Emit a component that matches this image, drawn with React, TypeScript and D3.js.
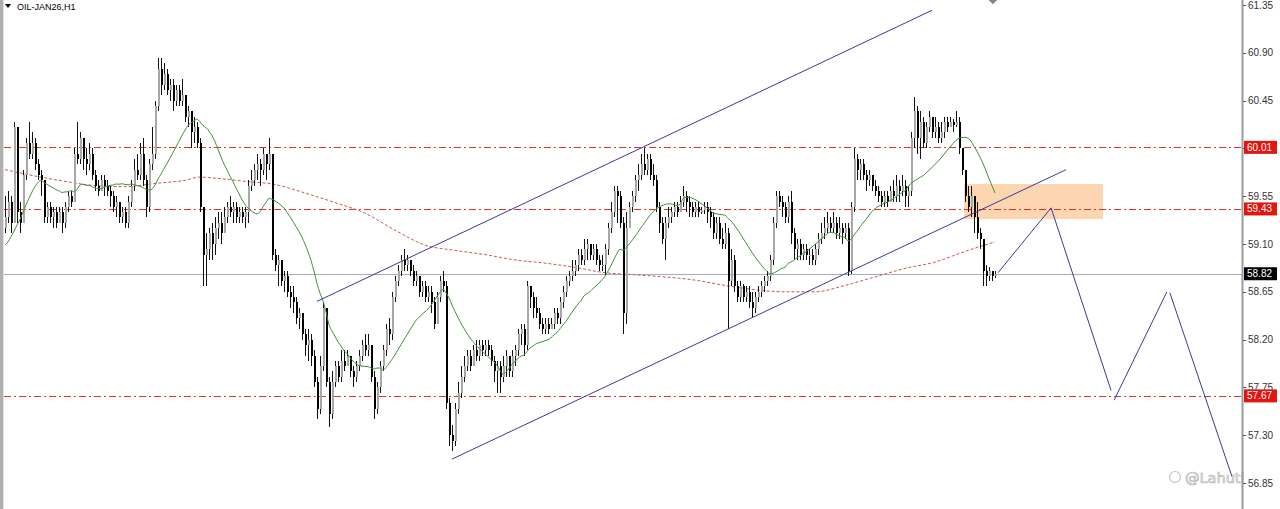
import * as d3 from "d3"

const W = 1280
const H = 509

const symbolTitle = "OIL-JAN26,H1"
const watermark = "@Lahuti"
const firstOpen = 59.25

const closes = [
    59.35, 59.5, 59.3, 60.2, 59.4, 59.3, 59.75, 60.05, 59.95, 60.05,
    59.85, 59.75, 59.7, 59.35, 59.45, 59.35, 59.4, 59.3, 59.4, 59.3,
    59.45, 59.55, 59.5, 59.95, 59.9, 60.1, 59.9, 59.85, 59.95, 59.75,
    59.65, 59.6, 59.7, 59.65, 59.6, 59.55, 59.45, 59.5, 59.35, 59.4,
    59.3, 59.5, 59.65, 59.8, 59.75, 59.95, 59.7, 59.45, 59.85, 59.95,
    60.4, 60.75, 60.6, 60.7, 60.55, 60.6, 60.45, 60.55, 60.45, 60.5,
    60.3, 60.35, 60.15, 60.2, 60.05, 59.45, 59.0, 59.05, 59.2, 59.1,
    59.25, 59.3, 59.2, 59.35, 59.45, 59.4, 59.45, 59.35, 59.4, 59.35,
    59.4, 59.65, 59.7, 59.8, 59.85, 59.8, 59.95, 59.85, 59.95, 59.0,
    58.9, 58.95, 58.75, 58.8, 58.65, 58.6, 58.55, 58.4, 58.45, 58.25,
    58.15, 58.2, 58.05, 57.8, 57.55, 57.95, 58.5, 57.8, 57.5, 57.8,
    57.95, 57.85, 58.0, 57.95, 58.05, 57.9, 57.85, 57.95, 58.05, 58.15,
    58.1, 58.15, 57.85, 57.55, 57.75, 57.95, 58.1, 58.3, 58.25, 58.6,
    58.75, 58.85, 58.95, 58.9, 58.95, 58.85, 58.75, 58.8, 58.65, 58.7,
    58.6, 58.65, 58.55, 58.35, 58.6, 58.75, 58.7, 57.6, 57.3, 57.25,
    57.55, 57.7, 57.85, 57.95, 58.05, 57.95, 58.1, 58.05, 58.15, 58.1,
    58.15, 58.1, 58.0, 57.9, 57.95, 57.85, 57.95, 58.05, 57.9, 58.05,
    58.1, 58.25, 58.3, 58.15, 58.7, 58.6, 58.5, 58.45, 58.35, 58.3,
    58.35, 58.3, 58.35, 58.45, 58.4, 58.55, 58.65, 58.75, 58.8, 58.85,
    58.9, 59.0, 58.95, 59.05, 59.1, 59.0, 59.05, 58.95, 58.9, 58.9,
    59.05, 59.25, 59.4, 59.6, 59.55, 59.3, 58.45, 59.25, 59.45, 59.55,
    59.7, 59.75, 59.85, 59.8, 59.9, 59.75, 59.7, 59.45, 59.3, 59.15,
    59.3, 59.35, 59.4, 59.45, 59.4, 59.5, 59.55, 59.5, 59.45, 59.4,
    59.45, 59.4, 59.42, 59.45, 59.4, 59.35, 59.2, 59.3, 59.15, 59.1,
    59.2, 58.75, 58.95, 58.7, 58.6, 58.7, 58.6, 58.65, 58.55, 58.5,
    58.6, 58.65, 58.7, 58.75, 58.8, 58.95, 59.3, 59.55, 59.5, 59.45,
    59.35, 59.5, 59.2, 59.05, 59.1, 59.0, 59.05, 59.0, 59.0, 58.95,
    59.05, 59.15, 59.2, 59.25, 59.3, 59.25, 59.3, 59.2, 59.25, 59.2,
    59.25, 58.85, 59.45, 59.9, 59.8, 59.85, 59.75, 59.7, 59.75, 59.65,
    59.6, 59.55, 59.5, 59.55, 59.5, 59.6, 59.55, 59.65, 59.6, 59.65,
    59.55, 59.6, 60.1, 60.35, 60.1, 60.25, 60.05, 60.2, 60.3, 60.15,
    60.2, 60.1, 60.15, 60.25, 60.2, 60.25, 60.22, 60.25, 60.0, 59.8,
    59.55, 59.45, 59.55, 59.35, 59.2, 59.15, 58.85, 58.8, 58.85, 58.8, 58.82,
]

const highs = [
    59.55, 59.6, 59.55, 60.25, 60.2, 59.5, 59.8, 60.1, 60.25, 60.15,
    60.1, 59.9, 59.8, 59.7, 59.5, 59.5, 59.45, 59.45, 59.45, 59.45,
    59.5, 59.6, 59.6, 60.0, 60.25, 60.15, 60.1, 60.0, 60.05, 60.0,
    59.8, 59.7, 59.75, 59.75, 59.7, 59.65, 59.6, 59.55, 59.5, 59.45,
    59.45, 59.55, 59.7, 59.9, 59.95, 60.05, 60.1, 59.75, 59.9, 60.2,
    60.45, 60.85, 60.85, 60.8, 60.75, 60.65, 60.65, 60.6, 60.6, 60.65,
    60.5, 60.4, 60.35, 60.3, 60.25, 60.1, 59.45, 59.2, 59.25, 59.3,
    59.35, 59.4, 59.4, 59.45, 59.5, 59.55, 59.5, 59.5, 59.45, 59.45,
    59.45, 59.7, 59.8, 59.85, 59.95, 59.9, 60.0, 59.95, 60.1, 59.95,
    59.05, 59.0, 58.95, 58.85, 58.85, 58.7, 58.7, 58.6, 58.5, 58.45,
    58.3, 58.3, 58.25, 58.1, 57.85, 58.05, 58.55, 58.45, 57.85, 57.9,
    58.0, 58.0, 58.1, 58.1, 58.1, 58.05, 57.95, 58.0, 58.1, 58.2,
    58.25, 58.25, 58.15, 57.9, 57.8, 58.0, 58.15, 58.35, 58.4, 58.65,
    58.8, 58.9, 59.0, 59.05, 59.0, 58.95, 58.9, 58.85, 58.8, 58.75,
    58.75, 58.7, 58.7, 58.6, 58.65, 58.8, 58.85, 58.75, 57.65, 57.4,
    57.6, 57.8, 57.95, 58.05, 58.1, 58.1, 58.15, 58.2, 58.2, 58.2,
    58.2, 58.2, 58.15, 58.05, 58.0, 58.0, 58.05, 58.1, 58.05, 58.1,
    58.15, 58.3, 58.35, 58.35, 58.75, 58.7, 58.65, 58.6, 58.5, 58.4,
    58.4, 58.4, 58.4, 58.5, 58.5, 58.6, 58.7, 58.8, 58.85, 58.95,
    58.95, 59.05, 59.05, 59.15, 59.15, 59.1, 59.1, 59.1, 59.0, 59.0,
    59.1, 59.3, 59.5, 59.65, 59.65, 59.6, 59.35, 59.4, 59.5, 59.6,
    59.75, 59.85, 59.95, 60.0, 59.95, 59.95, 59.85, 59.75, 59.5, 59.35,
    59.35, 59.45, 59.45, 59.5, 59.5, 59.55, 59.65, 59.6, 59.55, 59.5,
    59.5, 59.5, 59.45, 59.5, 59.5, 59.45, 59.4, 59.35, 59.35, 59.25,
    59.3, 59.25, 59.05, 59.0, 58.75, 58.75, 58.72, 58.7, 58.7, 58.65,
    58.65, 58.7, 58.75, 58.8, 58.85, 59.0, 59.35, 59.6, 59.6, 59.55,
    59.5, 59.55, 59.6, 59.25, 59.15, 59.15, 59.1, 59.1, 59.05, 59.05,
    59.1, 59.2, 59.3, 59.35, 59.4, 59.35, 59.4, 59.35, 59.35, 59.3,
    59.3, 59.3, 59.5, 60.0, 59.95, 59.9, 59.9, 59.8, 59.8, 59.75,
    59.7, 59.65, 59.6, 59.6, 59.6, 59.65, 59.7, 59.75, 59.7, 59.75,
    59.7, 59.65, 60.15, 60.48, 60.4, 60.35, 60.3, 60.25, 60.35, 60.3,
    60.3, 60.25, 60.25, 60.3, 60.3, 60.3, 60.28, 60.35, 60.3, 60.0,
    59.8, 59.65, 59.65, 59.55, 59.5, 59.25, 59.1, 58.9, 58.88, 58.85, 58.85,
]

const lows = [
    59.2, 59.3, 59.2, 59.3, 59.3, 59.2, 59.3, 59.7, 59.9, 59.9,
    59.8, 59.7, 59.55, 59.3, 59.3, 59.3, 59.25, 59.25, 59.3, 59.2,
    59.25, 59.4, 59.45, 59.5, 59.85, 59.85, 59.8, 59.75, 59.8, 59.7,
    59.6, 59.55, 59.6, 59.55, 59.55, 59.45, 59.4, 59.35, 59.3, 59.3,
    59.25, 59.25, 59.45, 59.6, 59.7, 59.7, 59.65, 59.35, 59.4, 59.8,
    59.9, 60.35, 60.5, 60.55, 60.5, 60.45, 60.35, 60.4, 60.4, 60.4,
    60.25, 60.2, 60.0, 60.05, 60.0, 59.4, 58.7, 58.7, 58.95, 58.95,
    59.0, 59.15, 59.1, 59.2, 59.3, 59.35, 59.3, 59.3, 59.3, 59.3,
    59.25, 59.3, 59.6, 59.65, 59.7, 59.65, 59.75, 59.7, 59.8, 58.95,
    58.85, 58.7, 58.7, 58.65, 58.6, 58.5, 58.45, 58.35, 58.3, 58.2,
    58.05, 58.0, 57.95, 57.75, 57.45, 57.5, 57.9, 57.75, 57.38, 57.45,
    57.75, 57.8, 57.8, 57.9, 57.95, 57.85, 57.75, 57.8, 57.9, 58.0,
    58.05, 58.05, 57.8, 57.45, 57.5, 57.7, 57.9, 58.05, 58.15, 58.2,
    58.55, 58.7, 58.8, 58.85, 58.85, 58.8, 58.7, 58.7, 58.6, 58.6,
    58.55, 58.55, 58.45, 58.3, 58.35, 58.55, 58.65, 57.55, 57.2, 57.15,
    57.2, 57.5, 57.65, 57.8, 57.9, 57.9, 57.95, 58.0, 58.0, 58.05,
    58.05, 58.05, 57.95, 57.8, 57.7, 57.7, 57.8, 57.85, 57.85, 57.85,
    57.95, 58.05, 58.15, 58.05, 58.1, 58.5, 58.4, 58.4, 58.3, 58.25,
    58.25, 58.25, 58.3, 58.3, 58.35, 58.35, 58.5, 58.6, 58.7, 58.75,
    58.8, 58.85, 58.9, 58.9, 58.95, 58.95, 58.95, 58.9, 58.85, 58.85,
    58.8, 59.0, 59.2, 59.35, 59.3, 59.25, 58.25, 58.35, 59.25, 59.4,
    59.5, 59.6, 59.7, 59.75, 59.75, 59.7, 59.65, 59.4, 59.2, 59.1,
    58.95, 59.25, 59.3, 59.35, 59.35, 59.4, 59.45, 59.4, 59.35, 59.35,
    59.35, 59.35, 59.38, 59.38, 59.3, 59.25, 59.15, 59.15, 59.1, 59.05,
    59.05, 58.3, 58.7, 58.65, 58.55, 58.55, 58.55, 58.55, 58.5, 58.4,
    58.45, 58.55, 58.6, 58.65, 58.7, 58.75, 58.9, 59.25, 59.45, 59.35,
    59.3, 59.3, 59.1, 58.95, 58.95, 58.95, 58.95, 58.95, 58.9, 58.9,
    58.9, 59.0, 59.1, 59.15, 59.2, 59.2, 59.2, 59.15, 59.15, 59.1,
    59.15, 58.8, 58.82, 59.4, 59.7, 59.7, 59.7, 59.6, 59.65, 59.6,
    59.55, 59.5, 59.45, 59.45, 59.45, 59.5, 59.5, 59.5, 59.5, 59.55,
    59.45, 59.45, 59.55, 60.0, 59.95, 59.9, 60.0, 60.0, 60.15, 60.1,
    60.1, 60.05, 60.05, 60.1, 60.15, 60.2, 60.15, 60.2, 59.95, 59.75,
    59.5, 59.4, 59.35, 59.2, 59.15, 59.05, 58.7, 58.7, 58.75, 58.75, 58.78,
]

// fast MA for the first bars (history before the window)
const fastMaLead = [59.09, 59.12, 59.17, 59.22, 59.28, 59.33, 59.4, 59.47, 59.53, 59.59, 59.64, 59.68, 59.7]
const fastMaPeriod = 20

// slow MA (red dotted)
const slowMaBars = [0, 10, 20, 30, 40, 50, 60, 65, 70, 80, 90, 100, 110, 120, 130, 140, 150, 160, 170, 180, 190, 200, 210, 220, 230, 240, 250, 260, 270, 280, 290, 300, 310, 320, 330]
const slowMaValues = [59.8, 59.74, 59.69, 59.65, 59.64, 59.67, 59.7, 59.73, 59.72, 59.69, 59.66, 59.58, 59.49, 59.39, 59.23, 59.09, 59.04, 59.0, 58.95, 58.92, 58.88, 58.83, 58.81, 58.79, 58.76, 58.71, 58.67, 58.65, 58.65, 58.71, 58.79, 58.87, 58.93, 59.03, 59.12]

const priceTicks = [61.35, 60.9, 60.45, 60.0, 59.55, 59.1, 58.65, 58.2, 57.75, 57.3, 56.85]
const levelPrices = [60.01, 59.43, 57.67]
const bidPrice = 58.82

// drawn objects, as [bar index, price]
const upperChannel = [[104, 58.56], [309, 61.3]]
const lowerChannel = [[149, 57.075], [353.7, 59.8]]
const projection = [
    [[331, 58.83], [348.7, 59.44], [368.7, 57.72]],
    [[369.7, 57.63], [387.3, 58.65]],
    [[388.3, 58.64], [409, 56.91]],
]
const zoneBars = [319.7, 366]
const zonePrices = [59.335, 59.664]
const markerPoint = [329.3, 61.41]

export default function App() {
    const x = d3.scaleLinear().domain([0, closes.length - 1]).range([5, 995])
    const y = d3.scaleLinear().domain([56.85, 61.35]).range([483, 5])
    const axisX = 1242

    const candles = closes.map((c, i) => {
        const o = i === 0 ? firstOpen : closes[i - 1]
        const h = Math.max(highs[i], o, c)
        const l = Math.min(lows[i], o, c)
        return { i, o, c, h, l }
    })

    const fastMa = closes.map((c, i) =>
        i < fastMaLead.length ? fastMaLead[i] : d3.mean(closes.slice(Math.max(0, i - fastMaPeriod + 1), i + 1)) as number
    )

    const fastLine = d3.line<number>().x((d, i) => x(i)).y(d => y(d)).curve(d3.curveMonotoneX)
    const slowLine = d3.line<number>().x((d, i) => x(slowMaBars[i])).y(d => y(d)).curve(d3.curveMonotoneX)
    const segLine = d3.line<number[]>().x(d => x(d[0])).y(d => y(d[1]))

    const red = "#d8362c"
    const blue = "#3a3a9a"
    const snap = (v: number) => Math.round(v) + 0.5

    return (
        <div style={{ position: "fixed", left: 0, top: 0 }}>
            <svg width={W} height={H} style={{ display: "block", background: "#fff" }}
                fontFamily="'Liberation Sans', Arial, sans-serif">
                {/* left frame */}
                <rect x={0} y={0} width={3} height={H} fill="#b0b0b0" />
                <line x1={3.5} y1={0} x2={3.5} y2={H} stroke="#e0e0e0" />

                {/* supply zone */}
                <rect x={x(zoneBars[0])} y={y(zonePrices[1])}
                    width={x(zoneBars[1]) - x(zoneBars[0])} height={y(zonePrices[0]) - y(zonePrices[1])}
                    fill="#fcd6b0" />

                {/* level lines */}
                {levelPrices.map(p => (
                    <line key={p} x1={4} x2={axisX} y1={snap(y(p))} y2={snap(y(p))}
                        stroke={red} strokeDasharray="7,3,2,3" strokeWidth={1} />
                ))}
                <line x1={4} x2={axisX} y1={snap(y(bidPrice))} y2={snap(y(bidPrice))}
                    stroke="#a8adbd" strokeWidth={1} />

                {/* slow MA */}
                <path d={slowLine(slowMaValues) ?? ""} fill="none" stroke="#d0574f" strokeWidth={1} strokeDasharray="3,2" />

                {/* candles */}
                <g shapeRendering="crispEdges">
                    {candles.map(d => {
                        const cx = Math.round(x(d.i))
                        const up = d.c >= d.o
                        const top = Math.round(y(Math.max(d.o, d.c)))
                        const bot = Math.round(y(Math.min(d.o, d.c)))
                        return (
                            <g key={d.i}>
                                <rect x={cx} y={y(d.h)} width={1} height={y(d.l) - y(d.h)} fill="#111" />
                                <rect x={cx - 0.5} y={top} width={2} height={Math.max(1, bot - top)}
                                    fill={up ? "#a8a8a8" : "#000"} />
                            </g>
                        )
                    })}
                </g>

                {/* fast MA */}
                <path d={fastLine(fastMa) ?? ""} fill="none" stroke="#3f8f3a" strokeWidth={1} />

                {/* channel and projection */}
                <path d={segLine(upperChannel) ?? ""} stroke={blue} strokeWidth={1} fill="none" />
                <path d={segLine(lowerChannel) ?? ""} stroke={blue} strokeWidth={1} fill="none" />
                {projection.map((leg, k) => (
                    <path key={k} d={segLine(leg) ?? ""} stroke={blue} strokeWidth={1} fill="none" />
                ))}

                {/* marker at the top */}
                <rect x={x(markerPoint[0]) - 4} y={y(markerPoint[1]) - 4} width={8} height={8}
                    transform={`rotate(45 ${x(markerPoint[0])} ${y(markerPoint[1])})`} fill="#7f8694" />

                {/* watermark */}
                <circle cx={1175} cy={477} r={5.5} fill="none" stroke="#c4c4c4" strokeWidth={1.2} />
                <text x={1185} y={483} fontSize={14.5} fill="#f4f4f4" stroke="#b8b8b8" strokeWidth={0.7}
                    fontFamily="'DejaVu Sans', sans-serif">{watermark}</text>

                {/* price axis */}
                <line x1={axisX + 0.5} x2={axisX + 0.5} y1={0} y2={H} stroke="#9a9a9a" strokeWidth={2} />
                {priceTicks.map(p => (
                    <g key={p}>
                        <line x1={axisX + 1} x2={axisX + 4} y1={snap(y(p))} y2={snap(y(p))} stroke="#555" />
                        <text x={axisX + 6} y={y(p)} dy="0.35em" fontSize={10} fill="#333">{p.toFixed(2)}</text>
                    </g>
                ))}
                {levelPrices.map(p => (
                    <g key={p}>
                        <rect x={axisX + 2} y={y(p) - 6.5} width={33} height={13} fill="#e3150f" />
                        <text x={axisX + 5} y={y(p)} dy="0.35em" fontSize={10} fill="#fff">{p.toFixed(2)}</text>
                    </g>
                ))}
                <rect x={axisX + 2} y={y(bidPrice) - 6.5} width={33} height={13} fill="#000" />
                <text x={axisX + 5} y={y(bidPrice)} dy="0.35em" fontSize={10} fill="#fff">{bidPrice.toFixed(2)}</text>

                {/* title */}
                <path d="M5,4 L11,4 L8,8 Z" fill="#000" />
                <text x={17} y={10} fontSize={9} fill="#000">{symbolTitle}</text>
            </svg>
        </div>
    )
}
